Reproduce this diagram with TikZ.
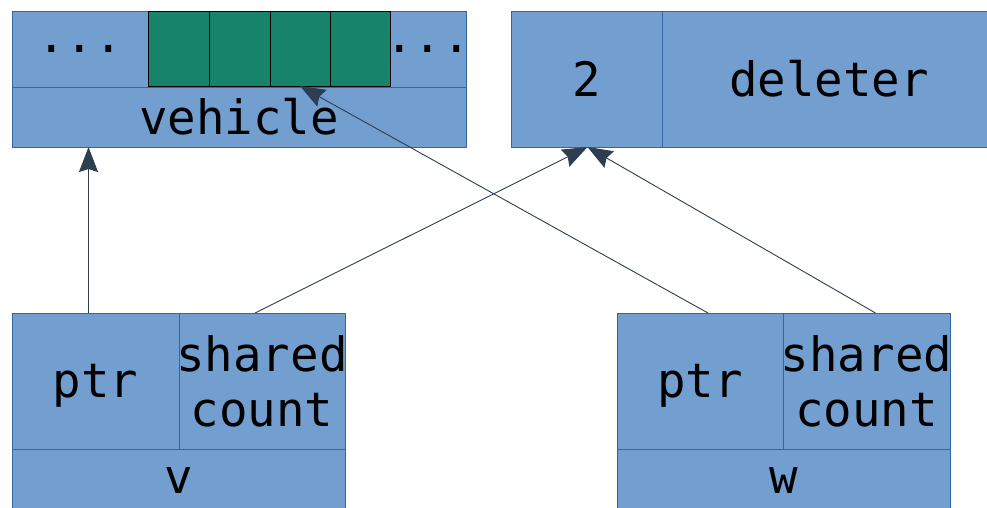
\documentclass[tikz,border=0pt]{standalone}
\usepackage{fontspec}
\setmonofont{DejaVu Sans Mono}
\usetikzlibrary{arrows.meta}
\definecolor{cellblue}{HTML}{729FCF}
\definecolor{cellborder}{HTML}{3465A4}
\definecolor{cellgreen}{HTML}{17836A}
\definecolor{arrowcol}{HTML}{2C3E50}
\begin{document}
\begin{tikzpicture}[x=1pt,y=-1pt,
  cell/.style={draw=cellborder,fill=cellblue,line width=0.9pt,inner sep=0pt,outer sep=0pt,
    font=\ttfamily\fontsize{47.4}{55}\selectfont,align=center},
  gcell/.style={draw=black,fill=cellgreen,line width=0.9pt,inner sep=0pt,outer sep=0pt},
  arr/.style={draw=arrowcol,line width=0.9pt,-{Stealth[length=25pt,width=19pt,inset=3pt]}}]
\useasboundingbox (0,0) rectangle (987,507);
\clip (0,0) rectangle (987,507);
% vehicle block
\node[cell,minimum width=136pt,minimum height=76pt,anchor=north west] (vleft) at (12,11) {\makebox[0pt]{...}};
\node[cell,minimum width=76pt,minimum height=76pt,anchor=north west] (vright) at (390,11) {\makebox[0pt]{...}};
\node[cell,minimum width=454pt,minimum height=60pt,anchor=north west] (vname) at (12,87) {vehicle};
\node[gcell,minimum width=61pt,minimum height=75pt,anchor=north west] (g1) at (148,11) {};
\node[gcell,minimum width=61pt,minimum height=75pt,anchor=north west] (g2) at (209,11) {};
\node[gcell,minimum width=60pt,minimum height=75pt,anchor=north west] (g3) at (270,11) {};
\node[gcell,minimum width=60pt,minimum height=75pt,anchor=north west] (g4) at (330,11) {};
% control block
\node[cell,minimum width=151pt,minimum height=136pt,anchor=north west] (cnt) at (511,11) {2};
\node[cell,minimum width=334pt,minimum height=136pt,anchor=north west] (del) at (662,11) {deleter};
% v
\node[cell,text depth=0pt,minimum width=167pt,minimum height=136pt,anchor=north west] (ptrV) at (12,313) {ptr};
\node[cell,minimum width=166pt,minimum height=136pt,anchor=north west] (shV) at (179,313) {\makebox[0pt]{shared}\\count};
\node[cell,minimum width=333pt,minimum height=63pt,anchor=north west] (nameV) at (12,449) {v};
% w
\node[cell,text depth=0pt,minimum width=166pt,minimum height=136pt,anchor=north west] (ptrW) at (617,313) {ptr};
\node[cell,minimum width=167pt,minimum height=136pt,anchor=north west] (shW) at (783,313) {\makebox[0pt]{shared}\\count};
\node[cell,minimum width=333pt,minimum height=63pt,anchor=north west] (nameW) at (617,449) {w};
% arrows
\draw[arr] ([xshift=-7pt]ptrV.north) -- ([xshift=-7pt]ptrV.north |- vname.south);
\draw[arr] ([xshift=-7pt]shV.north) -- ([xshift=1pt]cnt.south);
\draw[arr] ([xshift=8pt]ptrW.north) -- (g3.south);
\draw[arr] ([xshift=9pt]shW.north) -- ([xshift=1pt]cnt.south);
\end{tikzpicture}
\end{document}
